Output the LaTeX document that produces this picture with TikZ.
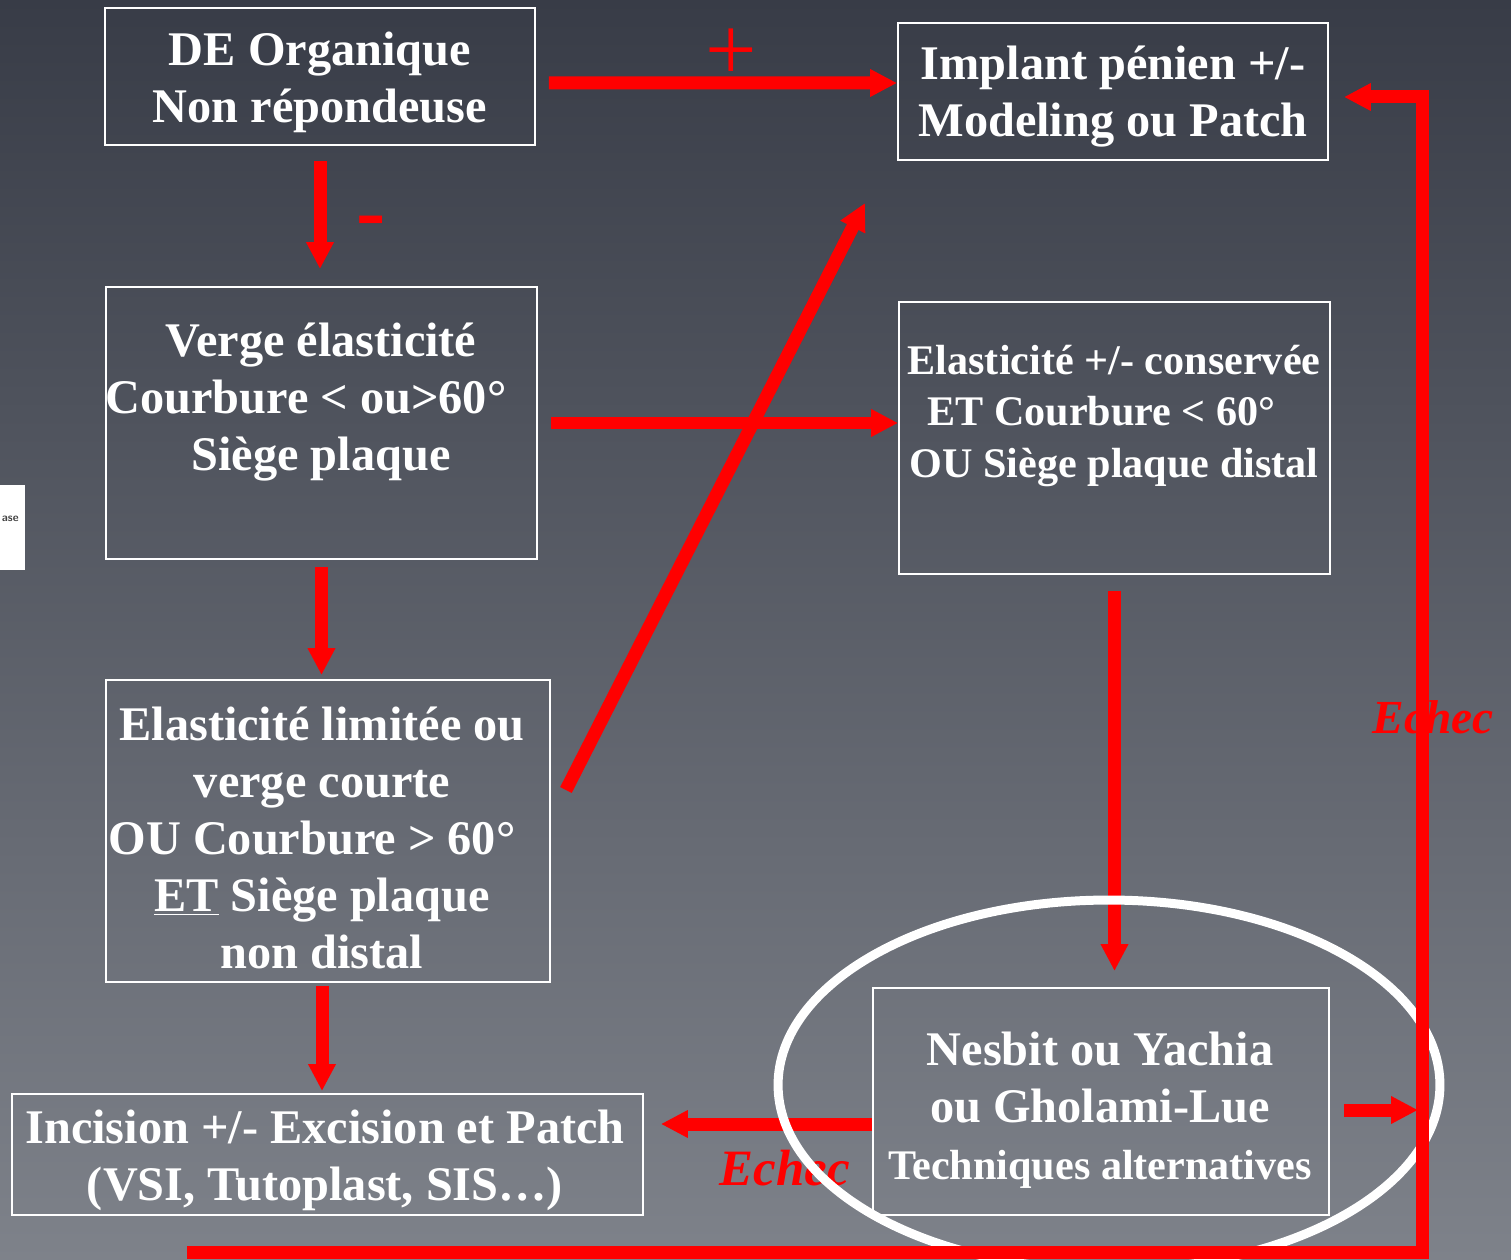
\documentclass[tikz,border=0pt]{standalone}
\usepackage{fontspec}
\setmainfont{Liberation Serif}
\usepackage{xcolor}
\usetikzlibrary{arrows.meta,calc}

\definecolor{bgtop}{RGB}{56,60,71}
\definecolor{bgmid}{RGB}{88,92,103}
\definecolor{bgbot}{RGB}{126,130,138}

\begin{document}
\begin{tikzpicture}[x=0.02cm,y=-0.02cm,
  box/.style={draw=white,line width=0.04cm,inner sep=0pt},
  txt/.style={text=white,align=center,inner sep=0pt,font=\fontsize{27.5}{32.4}\selectfont\bfseries},
  arr/.style={draw=red,line width=0.26cm,-{Triangle[length=0.54cm,width=0.52cm]}},
  lab/.style={text=red,inner sep=0pt,font=\fontsize{29}{34}\selectfont\bfseries\itshape}]
\useasboundingbox (0,0) rectangle (1511,1260);
\clip (0,0) rectangle (1511,1260);
\shade[top color=bgtop,middle color=bgmid,bottom color=bgbot] (0,0) rectangle (1511,1260);
% piece of the next slide at the left edge
\fill[white] (0,485) rectangle (25,570);
\node[anchor=east,inner sep=0pt,text=black!75,font=\fontsize{6.5}{7}\selectfont\bfseries\sffamily] (cut) at (19,519) {ase};
% boxes
\node[box,minimum width=8.6cm,minimum height=2.74cm] (de) at (320,76.5) {};
\node[box,minimum width=8.6cm,minimum height=2.74cm] (impl) at (1113,91.5) {};
\node[box,minimum width=8.62cm,minimum height=5.44cm] (verge) at (321.5,423) {};
\node[box,minimum width=8.62cm,minimum height=5.44cm] (cons) at (1114.5,438) {};
\node[box,minimum width=8.88cm,minimum height=6.04cm] (lim) at (328,831) {};
\node[box,minimum width=12.62cm,minimum height=2.42cm] (inc) at (327.5,1154.5) {};
\node[box,minimum width=9.12cm,minimum height=4.54cm] (nes) at (1101,1101.5) {};
% texts
\node[txt] (detxt) at (320,82) {DE Organique\\Non répondeuse};
\node[txt] (impltxt) at (1113,97) {Implant pénien +/-\\Modeling ou Patch};
\node[txt] (vergetxt) at (321,402) {Verge élasticité\\Courbure < ou>60°\hspace{0.6cm}\mbox{}\\Siège plaque};
\node[txt,font=\fontsize{24}{29.3}\selectfont\bfseries] (constxt) at (1114,416) {Elasticité +/- conservée\\ET Courbure < 60°\hspace{0.5cm}\mbox{}\\OU Siège plaque distal};
\node[txt] (limtxt) at (322,838) {Elasticité limitée ou\\verge courte\\OU Courbure > 60°\hspace{0.4cm}\mbox{}\\\underline{ET} Siège plaque\\non distal};
\node[txt] (inctxt) at (325,1160) {Incision +/- Excision et Patch\\(VSI, Tutoplast, SIS…)};
\node[txt] (nestxt) at (1100,1110) {Nesbit ou Yachia\\ou Gholami-Lue\\{\fontsize{24}{28}\selectfont Techniques alternatives}};
% arrows
\draw[arr,shorten <=0.26cm] ([yshift=-0.13cm]de.east) -- ([yshift=0.17cm]impl.west);
\draw[arr,shorten <=0.3cm,shorten >=0.34cm] (de.south) -- (de.south |- verge.north);
\draw[arr,shorten <=0.26cm] (verge.east) -- (verge.east -| cons.west);
\coordinate (diagtip) at (865,203);
\draw[arr] ([xshift=0.3cm,yshift=0.82cm]lim.east) -- (diagtip);
\draw[arr,shorten <=0.14cm,shorten >=0.08cm] (verge.south) -- (verge.south |- lim.north);
\draw[arr,shorten <=0.06cm,shorten >=0.04cm] ([xshift=-0.12cm]lim.south) -- ([xshift=-0.12cm]lim.south |- inc.north);
\draw[arr,shorten <=0.32cm,shorten >=0.32cm] (cons.south) -- (cons.south |- nes.north);
\draw[arr,shorten >=0.34cm] ([yshift=-0.45cm]nes.west) -- ([yshift=-0.45cm]nes.west -| inc.east);
\coordinate (loopL) at (187,1252);
\coordinate (loopR) at (1422,1252);
\draw[arr,shorten <=0.28cm,shorten >=0.08cm] ([yshift=-0.17cm]nes.east) -- ([yshift=-0.17cm]nes.east -| loopR);
% labels
\node[text=red,inner sep=0pt,font=\fontsize{52}{52}\selectfont] (plus) at (731,55) {+};
\node[text=red,inner sep=0pt,font=\fontsize{50}{50}\selectfont\bfseries] (minus) at (371,228) {-};
\node[lab] (echecA) at (785,1168) {Echec};
% highlight round the alternatives
\draw[white,line width=0.18cm] (1109,1085) ellipse [x radius=6.62cm,y radius=3.7cm];
% failure loop back to the implant
\draw[arr] (loopL) -- (loopR) |- ([xshift=0.3cm,yshift=-0.11cm]impl.east);
\node[lab,font=\fontsize{27}{32}\selectfont\bfseries\itshape] (echecB) at (1433,717) {Echec};
\end{tikzpicture}
\end{document}
